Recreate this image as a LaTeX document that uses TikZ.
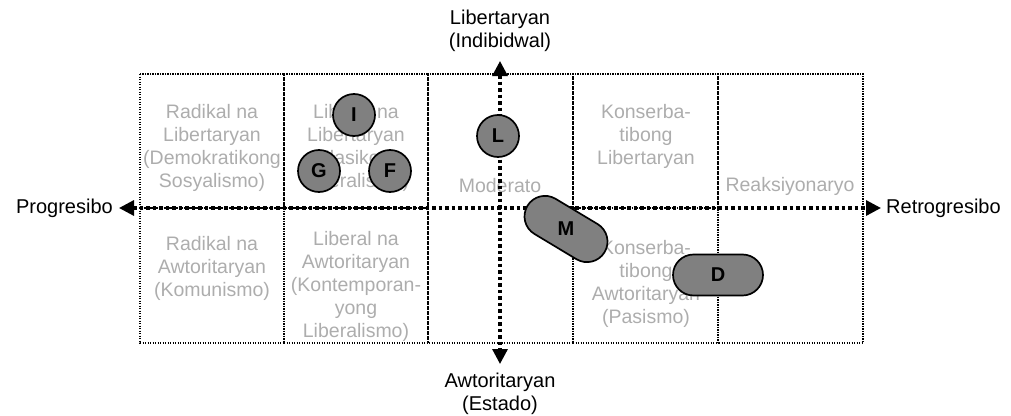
\documentclass[tikz,border=0pt]{standalone}
\usepackage{fontspec}
\setmainfont{Liberation Sans}
\usepackage{graphicx}
\usetikzlibrary{arrows.meta}
\begin{document}
\begin{tikzpicture}[x=1pt,y=-1pt,
  celltext/.style={text=black!32, align=center, font=\fontsize{19.5}{23}\selectfont, inner sep=0pt},
  axlabel/.style={text=black, align=center, font=\fontsize{20}{23}\selectfont, inner sep=0pt},
  gridbox/.style={draw=black, line width=1.3pt, dash pattern=on 1.3pt off 1.2pt},
  axisline/.style={line width=3.2pt, dash pattern=on 3.5pt off 3pt, {Triangle[length=15pt,width=15pt]}-{Triangle[length=15pt,width=15pt]}},
  dot/.style={circle, draw=black, line width=1.7pt, fill=black!50, minimum size=42pt, inner sep=0pt, font=\fontsize{20}{20}\selectfont\bfseries},
  capsule/.style={rectangle, rounded corners=20.5pt, draw=black, line width=1.7pt, fill=black!50, minimum width=90pt, minimum height=41pt, inner sep=0pt, font=\fontsize{20}{20}\selectfont\bfseries}
]
\useasboundingbox (0,0) rectangle (1011,415);
% cell texts
\node[celltext] (t1) at (212,148) {Radikal na\\Libertaryan\\(Demokratikong\\Sosyalismo)};
\node[celltext] (t2) at (212,268) {Radikal na\\Awtoritaryan\\(Komunismo)};
\node[celltext] (t3) at (356,148) {Liberal na\\Libertaryan\\(Klasikong\\Liberalismo)};
\node[celltext] (t4) at (356,286) {Liberal na\\Awtoritaryan\\(Kontemporan-\\yong\\Liberalismo)};
\node[celltext] (t5) at (500,186) {Moderato};
\node[celltext] (t6) at (646,136) {Konserba-\\tibong\\Libertaryan};
\node[celltext] (t7) at (646,284) {Konserba-\\tibong\\Awtoritaryan\\(Pasismo)};
\node[celltext] (t8) at (790,186) {Reaksiyonaryo};
% grid
\draw[gridbox] (140,74) rectangle (284,208);
\draw[gridbox] (140,208) rectangle (284,343);
\draw[gridbox] (284,74) rectangle (428,208);
\draw[gridbox] (284,208) rectangle (428,343);
\draw[gridbox] (428,74) rectangle (573,343);
\draw[gridbox] (573,74) rectangle (718,208);
\draw[gridbox] (573,208) rectangle (718,343);
\draw[gridbox] (718,74) rectangle (863,343);
% axes
\coordinate (axL) at (119,208);
\coordinate (axR) at (881,208);
\coordinate (axT) at (500,61);
\coordinate (axB) at (500,364);
\draw[axisline] (axL) -- (axR);
\draw[axisline] (axT) -- (axB);
\node[axlabel, anchor=east] (prog) at (113,208) {Progresibo};
\node[axlabel, anchor=west] (retro) at (886,208) {Retrogresibo};
\node[axlabel] (lib) at (500,31) {Libertaryan\\(Indibidwal)};
\node[axlabel] (awt) at (500,394) {Awtoritaryan\\(Estado)};
% points
\node[dot] (I) at (354,115) {I};
\node[dot] (G) at (319,171) {G};
\node[dot] (F) at (390,171) {F};
\node[dot] (L) at (498,136) {L};
\node[capsule, rotate=-31] (M) at (566,229) {\rotatebox{31}{M}};
\node[capsule] (D) at (718,275) {D};
\end{tikzpicture}
\end{document}
